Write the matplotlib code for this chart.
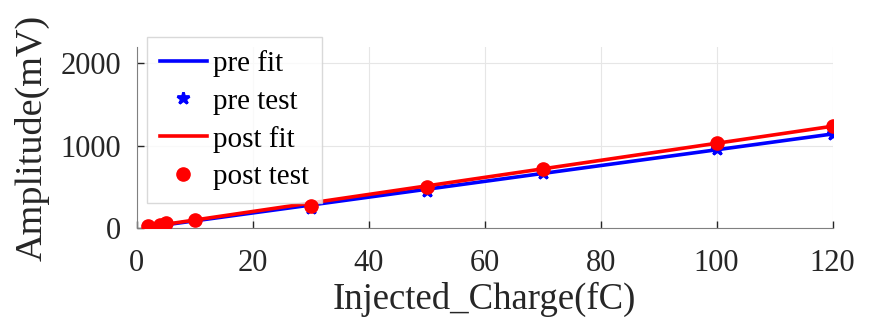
import matplotlib
matplotlib.use("Agg")
import matplotlib.pyplot as plt
import numpy as np

# Data
charge = [2, 4, 5, 10, 30, 50, 70, 100, 120]          # fC
pre_test = [20, 38, 50, 95, 244, 450, 670, 963, 1146]  # mV
post_test = [25, 42, 60, 100, 268, 500, 720, 1037, 1244]
x_ticks = [0, 20, 40, 60, 80, 100, 120]
y_ticks = [0, 1000, 2000]

plt.rcParams["font.family"] = ["Liberation Serif", "DejaVu Serif"]

fig = plt.figure(figsize=(8.7, 3.31), dpi=100)
ax = fig.add_axes([0.157, 0.311, 0.8, 0.547])

# linear fits
x = np.array(charge, dtype=float)
pre_coef = np.polyfit(x, pre_test, 1)
post_coef = np.polyfit(x, post_test, 1)

ax.plot(x, np.polyval(pre_coef, x), color="#0000ff", linewidth=2.6, label="pre fit", zorder=3)
ax.plot(x, pre_test, linestyle="none", marker="*", markersize=9, markeredgewidth=2,
        color="#0000ff", label="pre test", zorder=4)
ax.plot(x, np.polyval(post_coef, x), color="#ff0000", linewidth=2.6, label="post fit", zorder=5)
ax.plot(x, post_test, linestyle="none", marker="o", markersize=9.5,
        color="#ff0000", label="post test", zorder=6)

ax.set_xlim(0, 120)
ax.set_ylim(0, 2200)
ax.set_xticks(x_ticks)
ax.set_yticks(y_ticks)
ax.tick_params(direction="in", labelsize=22, colors="#262626", length=5, width=1)
ax.tick_params(axis="x", pad=15)
ax.tick_params(axis="y", pad=11)
ax.grid(True, color="#e6e6e6", linewidth=0.8)
ax.set_axisbelow(True)
for side in ["top", "right"]:
    ax.spines[side].set_visible(False)
for side in ["left", "bottom"]:
    ax.spines[side].set_color("#808080")

ax.set_xlabel("Injected_Charge(fC)", fontsize=26.5, color="#262626", labelpad=3)
ax.set_ylabel("Amplitude(mV)", fontsize=27.5, color="#262626", labelpad=8)

leg = ax.legend(loc="upper left", bbox_to_anchor=(147 / 870, 1 - 37 / 331),
                bbox_transform=fig.transFigure, fontsize=21, frameon=True,
                fancybox=False, edgecolor="#d0d0d0", handlelength=1.6,
                handletextpad=0.2, labelspacing=0.38, borderpad=0.45,
                borderaxespad=0)
for t in leg.get_texts():
    t.set_color("#000000")

fig.savefig("out.png", dpi=100)
